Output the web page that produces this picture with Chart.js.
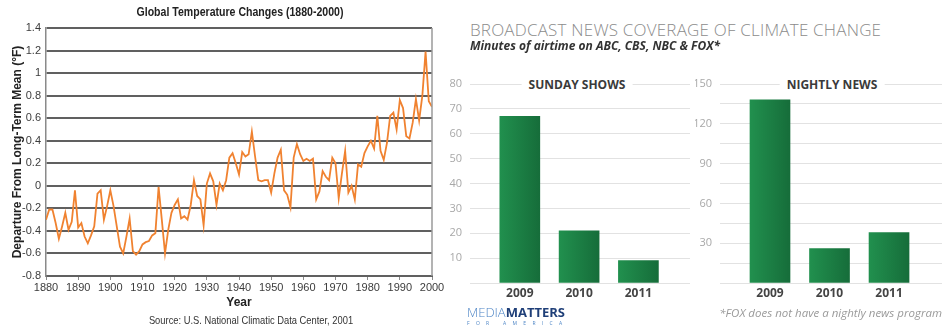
<!DOCTYPE html>
<html>
<head>
<meta charset="utf-8">
<script src="https://cdn.jsdelivr.net/npm/chart.js@4.4.1/dist/chart.umd.min.js"></script>
<style>
    body { margin: 0; background: #fff; }
    #wrap { position: relative; width: 945px; height: 327px; overflow: hidden; font-family: "Liberation Sans", Arial, sans-serif; }
    .box { position: absolute; }
    #tempTitle { position: absolute; left: 240px; top: 12px; transform: translate(-50%, -50%) scaleX(0.88); font: bold 12px "Liberation Sans", sans-serif; color: #222; white-space: nowrap; }
    #tempSource { position: absolute; left: 251px; top: 320px; transform: translate(-50%, -50%) scaleX(0.85); font: 11px "Liberation Sans", sans-serif; color: #333; white-space: nowrap; }
    #newsTitle { position: absolute; left: 470px; top: 18px; font: 300 17px "Open Sans", sans-serif; color: #8c8c8c; white-space: nowrap; letter-spacing: 0.2px; }
    #newsSub { position: absolute; left: 470px; top: 37px; font: italic bold 12px "Open Sans", sans-serif; color: #333; white-space: nowrap; }
    .panel { position: absolute; transform: translate(-50%, -50%); font: bold 12px "Open Sans", sans-serif; color: #3a3a3a; background: #fff; padding: 0 7px; white-space: nowrap; }
    #logo { position: absolute; left: 467px; top: 303px; font-family: "Open Sans", sans-serif; line-height: 1; }
    #logo .m1 { font-size: 13px; color: #4f86c6; font-weight: 300; }
    #logo .m2 { font-size: 13px; color: #1f3f78; font-weight: bold; }
    #logo .fa { font-size: 5px; color: #4f86c6; letter-spacing: 6.3px; margin-top: 2px; }
    #note { position: absolute; right: 3px; top: 305px; font: italic 11.5px "Open Sans", sans-serif; color: #9a9a9a; white-space: nowrap; }
</style>
</head>
<body>
<div id="wrap">
    <div class="box" style="left:0;top:0;width:448px;height:327px"><canvas id="tempChart"></canvas></div>
    <div id="tempTitle">Global Temperature Changes (1880-2000)</div>
    <div id="tempSource">Source: U.S. National Climatic Data Center, 2001</div>

    <div class="box" style="left:440px;top:60px;width:255px;height:250px"><canvas id="sundayChart"></canvas></div>
    <div class="box" style="left:695px;top:60px;width:250px;height:250px"><canvas id="nightlyChart"></canvas></div>
    <div id="newsTitle">BROADCAST NEWS COVERAGE OF CLIMATE CHANGE</div>
    <div id="newsSub">Minutes of airtime on ABC, CBS, NBC &amp; FOX*</div>
    <div class="panel" style="left:577px;top:84px">SUNDAY SHOWS</div>
    <div class="panel" style="left:832px;top:84px">NIGHTLY NEWS</div>
    <div id="logo"><span class="m1">MEDIA</span><span class="m2">MATTERS</span><div class="fa">FOR AMERICA</div></div>
    <div id="note">*FOX does not have a nightly news program</div>
</div>

<script>
// annual departure from long-term mean (°F), 1880 .. 2000
const firstYear = 1880;
const tempAnomaly = [
    -0.30, -0.21, -0.21, -0.33, -0.47, -0.36, -0.24, -0.39, -0.32, -0.04,
    -0.37, -0.33, -0.45, -0.51, -0.44, -0.36, -0.07, -0.04, -0.30, -0.18,
    -0.04, -0.18, -0.36, -0.54, -0.60, -0.45, -0.29, -0.58, -0.61, -0.58,
    -0.52, -0.50, -0.49, -0.44, -0.42, -0.01, -0.30, -0.60, -0.39, -0.24,
    -0.17, -0.12, -0.29, -0.27, -0.30, -0.17, 0.05, -0.09, -0.12, -0.35,
    0.02, 0.11, 0.04, -0.17, 0.02, -0.04, 0.05, 0.25, 0.29, 0.20,
    0.10, 0.30, 0.26, 0.28, 0.48, 0.26, 0.05, 0.04, 0.05, 0.05,
    -0.06, 0.11, 0.25, 0.32, -0.04, -0.08, -0.19, 0.25, 0.37, 0.28,
    0.22, 0.24, 0.22, 0.24, -0.12, -0.05, 0.13, 0.08, 0.05, 0.25,
    0.20, -0.11, 0.11, 0.31, -0.06, 0.00, -0.12, 0.19, 0.17, 0.29,
    0.35, 0.40, 0.33, 0.62, 0.31, 0.23, 0.38, 0.62, 0.65, 0.50,
    0.76, 0.69, 0.44, 0.42, 0.56, 0.77, 0.58, 0.80, 1.19, 0.75,
    0.70
];
const tempYears = tempAnomaly.map((_, i) => firstYear + i);

// minutes of airtime
const newsYears = ['2009', '2010', '2011'];
const sundayMinutes = [67, 21, 9];
const nightlyMinutes = [138, 26, 38];

const rightFrame = {
    id: 'rightFrame',
    afterDraw(chart) {
        const a = chart.chartArea;
        const ctx = chart.ctx;
        ctx.save();
        ctx.strokeStyle = '#9a9a9a';
        ctx.lineWidth = 1.5;
        ctx.beginPath();
        ctx.moveTo(a.right, a.top);
        ctx.lineTo(a.right, a.bottom);
        ctx.stroke();
        ctx.restore();
    }
};

new Chart(document.getElementById('tempChart'), {
    type: 'line',
    data: {
        datasets: [{
            data: tempYears.map((y, i) => ({ x: y, y: tempAnomaly[i] })),
            borderColor: '#f08230',
            borderWidth: 1.8,
            pointRadius: 0,
            tension: 0
        }]
    },
    options: {
        responsive: true,
        maintainAspectRatio: false,
        animation: false,
        layout: { padding: { top: 28, right: 16, left: 0, bottom: 0 } },
        plugins: { legend: { display: false }, tooltip: { enabled: false } },
        scales: {
            x: {
                type: 'linear',
                min: 1880,
                max: 2000,
                afterFit(s) { s.height = 51; },
                ticks: {
                    stepSize: 10,
                    autoSkip: false,
                    maxRotation: 0,
                    padding: 1,
                    color: '#3c3c3c',
                    font: { family: 'Liberation Sans', size: 11 },
                    callback: v => String(v)
                },
                grid: { drawOnChartArea: false, tickLength: 4, color: '#8a8a8a' },
                border: { color: '#606060', width: 2 },
                title: {
                    display: true,
                    text: 'Year',
                    color: '#222',
                    font: { family: 'Liberation Sans', size: 12, weight: 'bold' },
                    padding: { top: 0, bottom: 17 }
                }
            },
            y: {
                min: -0.8,
                max: 1.4,
                afterFit(s) { s.width = 46; },
                ticks: {
                    stepSize: 0.2,
                    padding: 5,
                    color: '#3c3c3c',
                    font: { family: 'Liberation Sans', size: 11 },
                    callback: v => String(Math.round(v * 10) / 10)
                },
                grid: { color: '#606060', lineWidth: 2, drawTicks: false },
                border: { color: '#8a8a8a', width: 1.5 },
                title: {
                    display: true,
                    text: 'Departure From Long-Term Mean (°F)',
                    color: '#222',
                    font: { family: 'Liberation Sans', size: 12, weight: 'bold' },
                    padding: { top: 10, bottom: 0 }
                }
            }
        }
    },
    plugins: [rightFrame]
});

function barFill(c) {
    const chart = c.chart;
    const xs = chart.scales.x;
    if (!xs || !chart.chartArea) {
        return '#1b8446';
    }
    const px = xs.getPixelForValue(c.dataIndex);
    const g = chart.ctx.createLinearGradient(px - 20, 0, px + 20, 0);
    g.addColorStop(0, '#21904e');
    g.addColorStop(1, '#166d3a');
    return g;
}

function newsChart(el, values, yMax, yStep, labelEvery, xMax, yWidth, padRight) {
    return new Chart(el, {
        type: 'bar',
        data: {
            datasets: [{
                data: values.map((v, i) => ({ x: i, y: v })),
                backgroundColor: barFill,
                barThickness: 40
            }]
        },
        options: {
            responsive: true,
            maintainAspectRatio: false,
            animation: false,
            layout: { padding: { top: 24, right: padRight, left: 0, bottom: 0 } },
            plugins: { legend: { display: false }, tooltip: { enabled: false } },
            scales: {
                x: {
                    type: 'linear',
                    offset: false,
                    min: -0.84,
                    max: xMax,
                    afterBuildTicks(s) { s.ticks = newsYears.map((_, i) => ({ value: i })); },
                    afterFit(s) { s.height = 27; },
                    ticks: {
                        autoSkip: false,
                        maxRotation: 0,
                        padding: 3,
                        color: '#444',
                        font: { family: 'Open Sans', size: 12, weight: 'bold' },
                        callback: v => newsYears[v] ?? ''
                    },
                    grid: { display: false, drawTicks: false },
                    border: { display: false }
                },
                y: {
                    min: 0,
                    max: yMax,
                    afterFit(s) { s.width = yWidth; },
                    ticks: {
                        stepSize: yStep,
                        padding: 8,
                        color: '#a8a8a8',
                        font: { family: 'Open Sans', size: 11 },
                        callback: v => (v !== 0 && v % labelEvery === 0) ? v : ''
                    },
                    grid: { color: '#e2e2e2', lineWidth: 1, drawTicks: false },
                    border: { display: false }
                }
            }
        }
    });
}

newsChart(document.getElementById('sundayChart'), sundayMinutes, 80, 10, 10, 2.87, 30, 5);
newsChart(document.getElementById('nightlyChart'), nightlyMinutes, 150, 15, 30, 2.89, 25, 3);
</script>
</body>
</html>
